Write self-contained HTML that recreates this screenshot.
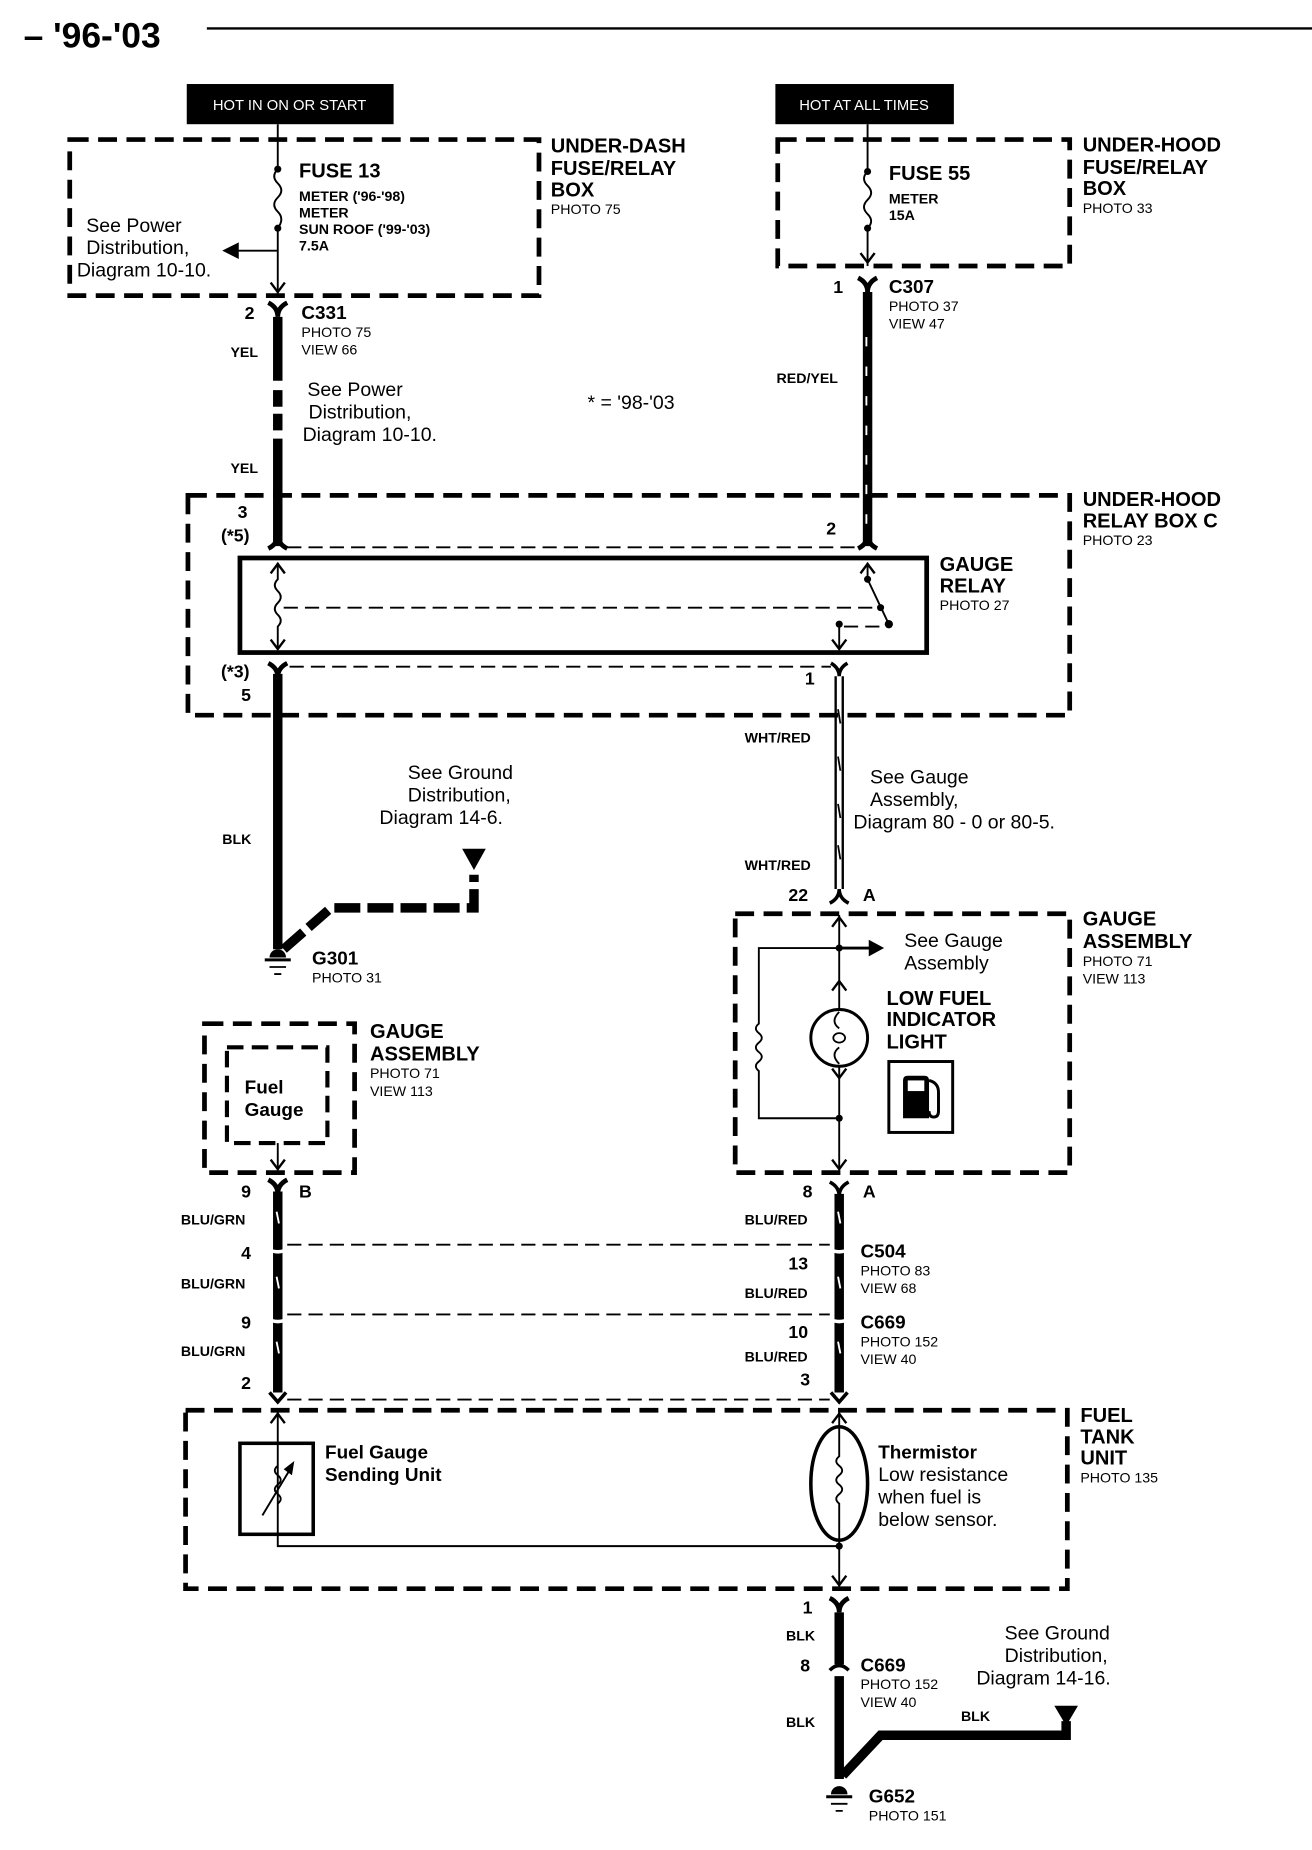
<!DOCTYPE html>
<html><head><meta charset="utf-8"><style>
html,body{margin:0;padding:0;background:#fff;}
svg{display:block;}
text{font-family:"Liberation Sans",sans-serif;fill:#000;}
.b{font-weight:bold;}
.h{font-size:17px;font-weight:bold;}
.s{font-size:12px;}
.sb{font-size:12px;font-weight:bold;}
.m{font-size:16.5px;}
.dash{fill:none;stroke:#000;stroke-width:4;stroke-dasharray:16 8;}
.thin{fill:none;stroke:#000;stroke-width:1.6;}
.td{fill:none;stroke:#000;stroke-width:1.6;stroke-dasharray:12 6;}
.w{fill:none;stroke:#000;stroke-width:8;}
.tick{stroke:#fff;stroke-width:1.6;}
</style></head><body>
<svg width="1312" height="1850" viewBox="0 0 1110 1565" xmlns="http://www.w3.org/2000/svg">
<defs>
<path id="dn" d="M-6,-8 L0,0 L6,-8" fill="none" stroke="#000" stroke-width="2"/>
<path id="up" d="M-6,8 L0,0 L6,8" fill="none" stroke="#000" stroke-width="2"/>
<path id="fy" d="M-8,-6 Q0,-2 0,6 Q0,-2 8,-6" fill="none" stroke="#000" stroke-width="4"/>
<path id="fv" d="M-8,6 Q0,2 0,-6 Q0,2 8,6" fill="none" stroke="#000" stroke-width="4"/>
</defs>

<!-- title -->
<text x="20" y="40" class="b" style="font-size:30px">– '96-'03</text>
<line x1="175" y1="24" x2="1110" y2="24" stroke="#000" stroke-width="2"/>

<!-- hot labels -->
<rect x="158" y="71" width="175" height="34" fill="#000"/>
<text x="245" y="93" text-anchor="middle" style="font-size:12.5px;fill:#fff">HOT IN ON OR START</text>
<rect x="656" y="71" width="151" height="34" fill="#000"/>
<text x="731" y="93" text-anchor="middle" style="font-size:12.5px;fill:#fff">HOT AT ALL TIMES</text>

<!-- under-dash box -->
<rect x="59" y="118" width="397" height="132" class="dash"/>
<text x="466" y="129" class="h">UNDER-DASH</text>
<text x="466" y="148" class="h">FUSE/RELAY</text>
<text x="466" y="166" class="h">BOX</text>
<text x="466" y="181" class="s">PHOTO 75</text>
<path d="M235,105 V143 M235,193 V250" class="thin"/>
<path d="M235,143 q-6,6 0,12 q6,6 0,12 q-6,6 0,12 q6,6 0,14" class="thin"/>
<circle cx="235" cy="143" r="3"/><circle cx="235" cy="193" r="3"/>
<path d="M235,212 H200" class="thin" stroke-width="2.5"/>
<path d="M188,212 L202,205 L202,219Z"/>
<use href="#dn" x="235" y="247"/>
<text x="253" y="150" class="h">FUSE 13</text>
<text x="253" y="170" class="sb">METER ('96-'98)</text>
<text x="253" y="184" class="sb">METER</text>
<text x="253" y="198" class="sb">SUN ROOF ('99-'03)</text>
<text x="253" y="212" class="sb">7.5A</text>
<text x="73" y="196" class="m">See Power</text>
<text x="73" y="215" class="m">Distribution,</text>
<text x="65" y="234" class="m">Diagram 10-10.</text>

<!-- C331 / YEL -->
<use href="#fy" x="235" y="262"/>
<text x="207" y="270" class="h" style="font-size:15px">2</text>
<text x="255" y="270" class="h" style="font-size:16px">C331</text>
<text x="255" y="285" class="s">PHOTO 75</text>
<text x="255" y="300" class="s">VIEW 66</text>
<path d="M235,268 V322 M235,330 V344 M235,350 V364 M235,371 V462" class="w"/>
<text x="195" y="302" class="sb">YEL</text>
<text x="195" y="400" class="sb">YEL</text>
<text x="260" y="335" class="m">See Power</text>
<text x="261" y="354" class="m">Distribution,</text>
<text x="256" y="373" class="m">Diagram 10-10.</text>
<text x="497" y="346" class="m">* = '98-'03</text>

<!-- under-hood box -->
<rect x="658" y="118" width="247" height="107" class="dash"/>
<text x="916" y="128" class="h">UNDER-HOOD</text>
<text x="916" y="147" class="h">FUSE/RELAY</text>
<text x="916" y="165" class="h">BOX</text>
<text x="916" y="180" class="s">PHOTO 33</text>
<path d="M734,105 V145 M734,193 V225" class="thin"/>
<path d="M734,145 q-6,6 0,12 q6,6 0,12 q-6,6 0,12 q6,6 0,12" class="thin"/>
<circle cx="734" cy="145" r="3"/><circle cx="734" cy="193" r="3"/>
<use href="#dn" x="734" y="222"/>
<text x="752" y="152" class="h">FUSE 55</text>
<text x="752" y="172" class="sb">METER</text>
<text x="752" y="186" class="sb">15A</text>
<use href="#fy" x="734" y="241"/>
<text x="705" y="248" class="h" style="font-size:15px">1</text>
<text x="752" y="248" class="h" style="font-size:16px">C307</text>
<text x="752" y="263" class="s">PHOTO 37</text>
<text x="752" y="278" class="s">VIEW 47</text>
<path d="M734,247 V462" class="w"/>
<path d="M733,285 v8 M733,310 v8 M733,335 v8 M733,360 v8 M733,385 v8 M733,410 v8 M733,435 v8" class="tick"/>
<text x="657" y="324" class="sb">RED/YEL</text>

<!-- relay box C -->
<rect x="159" y="419" width="746" height="186" class="dash"/>
<text x="916" y="428" class="h">UNDER-HOOD</text>
<text x="916" y="446" class="h">RELAY BOX C</text>
<text x="916" y="461" class="s">PHOTO 23</text>
<text x="201" y="438" class="h" style="font-size:15px">3</text>
<text x="187" y="458" class="h" style="font-size:15px">(*5)</text>
<text x="699" y="452" class="h" style="font-size:15px">2</text>
<use href="#fv" x="235" y="458"/><use href="#fv" x="734" y="458"/>
<path d="M243,463 H726" class="td"/>
<rect x="203" y="472" width="581" height="80" fill="none" stroke="#000" stroke-width="4"/>
<text x="795" y="483" class="h">GAUGE</text>
<text x="795" y="501" class="h">RELAY</text>
<text x="795" y="516" class="s">PHOTO 27</text>
<path d="M235,476 V490 q-5,5 0,10 q5,5 0,10 q-5,5 0,10 q5,5 0,10 V549" class="thin"/>
<use href="#up" x="235" y="477"/><use href="#dn" x="235" y="549"/>
<path d="M240,514 H745" class="td"/>
<path d="M734,476 V490 L752,528" class="thin" stroke-width="2"/>
<use href="#up" x="734" y="477"/>
<circle cx="734" cy="490" r="3"/><circle cx="745" cy="514" r="3"/><circle cx="752" cy="528" r="3.5"/>
<circle cx="710" cy="528" r="3"/>
<path d="M714,530 H748" class="td"/>
<path d="M710,528 V549" class="thin"/>
<use href="#dn" x="710" y="549"/>
<use href="#fy" x="235" y="567"/>
<path d="M245,564 H703" class="td"/>
<path d="M703,561 Q710,565 710,572 Q710,565 717,561" fill="none" stroke="#000" stroke-width="3"/>
<text x="187" y="573" class="h" style="font-size:15px">(*3)</text>
<text x="204" y="593" class="h" style="font-size:15px">5</text>
<text x="681" y="579" class="h" style="font-size:15px">1</text>

<!-- BLK wire to G301 -->
<path d="M235,570 V803" class="w"/>
<text x="188" y="714" class="sb">BLK</text>
<path d="M240,803 L280,768 H401 V740" fill="none" stroke="#000" stroke-width="8" stroke-dasharray="22 6"/>
<path d="M391,718 H411 L401,736Z"/>
<text x="345" y="659" class="m">See Ground</text>
<text x="345" y="678" class="m">Distribution,</text>
<text x="321" y="697" class="m">Diagram 14-6.</text>
<path d="M228,810 a7,7 0 0 1 14,0Z"/>
<path d="M224,812 H246" stroke="#000" stroke-width="2.5"/>
<path d="M228,818 H242 M232,824 H238" stroke="#000" stroke-width="1.5"/>
<text x="264" y="816" class="h" style="font-size:16px">G301</text>
<text x="264" y="831" class="s">PHOTO 31</text>

<!-- WHT/RED wire -->
<path d="M707,572 V752 M713,572 V752" stroke="#000" stroke-width="2"/>
<path d="M709,600 l2,12 M709,640 l2,12 M709,680 l2,12 M709,715 l2,12" stroke="#000" stroke-width="1.5"/>
<text x="630" y="628" class="sb">WHT/RED</text>
<text x="630" y="736" class="sb">WHT/RED</text>
<text x="736" y="663" class="m">See Gauge</text>
<text x="736" y="682" class="m">Assembly,</text>
<text x="722" y="701" class="m">Diagram 80 - 0 or 80-5.</text>
<path d="M702,764 Q710,760 710,752 Q710,760 718,764" fill="none" stroke="#000" stroke-width="3"/>
<text x="667" y="762" class="h" style="font-size:15px">22</text>
<text x="730" y="762" class="h" style="font-size:15px">A</text>

<!-- right gauge assembly -->
<rect x="622" y="773" width="283" height="219" class="dash"/>
<text x="916" y="783" class="h">GAUGE</text>
<text x="916" y="802" class="h">ASSEMBLY</text>
<text x="916" y="817" class="s">PHOTO 71</text>
<text x="916" y="832" class="s">VIEW 113</text>
<path d="M710,774 V854 M710,902 V990" class="thin"/>
<use href="#up" x="710" y="776"/><use href="#up" x="710" y="830"/><use href="#dn" x="710" y="912"/><use href="#dn" x="710" y="989"/>
<circle cx="710" cy="802" r="3"/><circle cx="710" cy="946" r="3"/>
<path d="M710,802 H736" stroke="#000" stroke-width="2.5"/>
<path d="M748,802 L735,795 L735,809Z"/>
<path d="M710,802 H642 V866 q-5,4 0,8 q5,4 0,8 q-5,4 0,8 q5,4 0,8 q-5,4 0,8 V946 H710" class="thin"/>
<circle cx="710" cy="878" r="24" fill="none" stroke="#000" stroke-width="2.5"/>
<path d="M710,856 q-8,8 0,14 M710,886 q-8,6 0,14" class="thin"/>
<ellipse cx="710" cy="878" rx="5" ry="4" fill="none" stroke="#000" stroke-width="1.5"/>
<text x="765" y="801" class="m">See Gauge</text>
<text x="765" y="820" class="m">Assembly</text>
<text x="750" y="850" class="h">LOW FUEL</text>
<text x="750" y="868" class="h">INDICATOR</text>
<text x="750" y="887" class="h">LIGHT</text>
<rect x="752" y="898" width="54" height="60" fill="none" stroke="#000" stroke-width="2.5"/>
<path d="M764,946 V914 q0,-4 4,-4 h14 q4,0 4,4 V946Z"/>
<rect x="768" y="914" width="14" height="9" fill="#fff"/>
<path d="M786,914 q8,2 8,10 V940 q0,5 -4,5 q-4,0 -4,-5" fill="none" stroke="#000" stroke-width="2.5"/>
<path d="M702,1000 Q710,1004 710,1012 Q710,1004 718,1000" fill="none" stroke="#000" stroke-width="3"/>
<text x="679" y="1013" class="h" style="font-size:15px">8</text>
<text x="730" y="1013" class="h" style="font-size:15px">A</text>

<!-- left gauge assembly -->
<rect x="173" y="866" width="127" height="126" class="dash"/>
<rect x="192" y="886" width="85" height="81" class="dash" style="stroke-width:3.5;stroke-dasharray:14 7"/>
<text x="207" y="925" class="h" style="font-size:16px">Fuel</text>
<text x="207" y="944" class="h" style="font-size:16px">Gauge</text>
<text x="313" y="878" class="h">GAUGE</text>
<text x="313" y="897" class="h">ASSEMBLY</text>
<text x="313" y="912" class="s">PHOTO 71</text>
<text x="313" y="927" class="s">VIEW 113</text>
<path d="M235,967 V990" class="thin"/><use href="#dn" x="235" y="989"/>
<use href="#fy" x="235" y="1004"/>
<text x="204" y="1013" class="h" style="font-size:15px">9</text>
<text x="253" y="1013" class="h" style="font-size:15px">B</text>

<!-- lower wires -->
<path d="M235,1008 V1178 M710,1010 V1178" class="w"/>
<path d="M234,1025 l2,10 M234,1080 l2,10 M234,1135 l2,10 M709,1025 l2,10 M709,1080 l2,10 M709,1135 l2,10" class="tick" stroke-width="2"/>
<path d="M227,1057 Q235,1061 243,1057 M227,1116 Q235,1120 243,1116 M702,1057 Q710,1061 718,1057 M702,1116 Q710,1120 718,1116" stroke="#fff" stroke-width="3" fill="none"/>
<path d="M243,1053 H702 M243,1112 H702" class="td"/>
<path d="M243,1184 H702" class="td"/>
<path d="M228,1178 L235,1186 L242,1178 M703,1178 L710,1186 L717,1178" fill="none" stroke="#000" stroke-width="3"/>
<text x="153" y="1036" class="sb">BLU/GRN</text>
<text x="153" y="1090" class="sb">BLU/GRN</text>
<text x="153" y="1147" class="sb">BLU/GRN</text>
<text x="204" y="1065" class="h" style="font-size:15px">4</text>
<text x="204" y="1124" class="h" style="font-size:15px">9</text>
<text x="204" y="1175" class="h" style="font-size:15px">2</text>
<text x="630" y="1036" class="sb">BLU/RED</text>
<text x="630" y="1098" class="sb">BLU/RED</text>
<text x="630" y="1152" class="sb">BLU/RED</text>
<text x="667" y="1074" class="h" style="font-size:15px">13</text>
<text x="667" y="1132" class="h" style="font-size:15px">10</text>
<text x="677" y="1172" class="h" style="font-size:15px">3</text>
<text x="728" y="1064" class="h" style="font-size:16px">C504</text>
<text x="728" y="1079" class="s">PHOTO 83</text>
<text x="728" y="1094" class="s">VIEW 68</text>
<text x="728" y="1124" class="h" style="font-size:16px">C669</text>
<text x="728" y="1139" class="s">PHOTO 152</text>
<text x="728" y="1154" class="s">VIEW 40</text>

<!-- fuel tank unit -->
<rect x="157" y="1193" width="746" height="151" class="dash"/>
<text x="914" y="1203" class="h">FUEL</text>
<text x="914" y="1221" class="h">TANK</text>
<text x="914" y="1239" class="h">UNIT</text>
<text x="914" y="1254" class="s">PHOTO 135</text>
<path d="M235,1194 V1308 H710" class="thin" stroke-width="2"/>
<use href="#up" x="235" y="1196"/>
<rect x="203" y="1221" width="62" height="77" fill="none" stroke="#000" stroke-width="3"/>
<path d="M235,1240 q-5,4 0,8 q5,4 0,8 q-5,4 0,8 q5,4 0,8" class="thin"/>
<path d="M222,1282 L246,1242" class="thin" stroke-width="2"/>
<path d="M249,1236 L240,1243 L247,1248Z"/>
<text x="275" y="1234" class="h" style="font-size:16px">Fuel Gauge</text>
<text x="275" y="1253" class="h" style="font-size:16px">Sending Unit</text>
<path d="M710,1194 V1232 q-5,4 0,8 q5,4 0,8 q-5,4 0,8 q5,4 0,8 q-5,4 0,8 V1342" class="thin" stroke-width="2"/>
<use href="#up" x="710" y="1196"/><use href="#dn" x="710" y="1341"/>
<ellipse cx="710" cy="1255" rx="24" ry="48" fill="none" stroke="#000" stroke-width="3"/>
<circle cx="710" cy="1308" r="3"/>
<text x="743" y="1234" class="h" style="font-size:16px">Thermistor</text>
<text x="743" y="1253" class="m">Low resistance</text>
<text x="743" y="1272" class="m">when fuel is</text>
<text x="743" y="1291" class="m">below sensor.</text>

<!-- bottom ground -->
<use href="#fy" x="710" y="1358"/>
<path d="M710,1364 V1408 M710,1418 V1505" class="w"/>
<path d="M702,1413 Q710,1405 718,1413" fill="none" stroke="#000" stroke-width="3"/>
<text x="679" y="1365" class="h" style="font-size:15px">1</text>
<text x="665" y="1388" class="sb">BLK</text>
<text x="677" y="1414" class="h" style="font-size:15px">8</text>
<text x="728" y="1414" class="h" style="font-size:16px">C669</text>
<text x="728" y="1429" class="s">PHOTO 152</text>
<text x="728" y="1444" class="s">VIEW 40</text>
<text x="665" y="1461" class="sb">BLK</text>
<text x="813" y="1456" class="sb">BLK</text>
<path d="M713,1502 L745,1468 H902 V1456" fill="none" stroke="#000" stroke-width="8"/>
<path d="M892,1443 H912 L902,1460Z"/>
<text x="850" y="1387" class="m">See Ground</text>
<text x="850" y="1406" class="m">Distribution,</text>
<text x="826" y="1425" class="m">Diagram 14-16.</text>
<path d="M703,1518 a7,7 0 0 1 14,0Z"/>
<path d="M699,1520 H721" stroke="#000" stroke-width="2.5"/>
<path d="M703,1526 H717 M707,1532 H713" stroke="#000" stroke-width="1.5"/>
<text x="735" y="1525" class="h" style="font-size:16px">G652</text>
<text x="735" y="1540" class="s">PHOTO 151</text>
</svg>
</body></html>
